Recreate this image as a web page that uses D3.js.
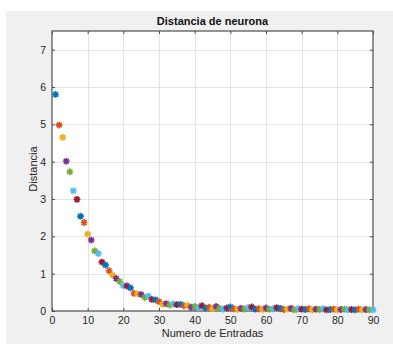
<!DOCTYPE html>
<html>
<head>
<meta charset="utf-8">
<script src="https://cdn.jsdelivr.net/npm/d3@7"></script>
<style>
html,body{margin:0;padding:0;background:#fff;}
svg{display:block;}
text{font-family:"Liberation Sans",Arial,sans-serif;}
</style>
</head>
<body>
<svg id="chart" width="393" height="344"></svg>
<script>
const entradas = d3.range(1, 91);
const distancia = [
  5.80, 4.98, 4.65, 4.01, 3.73, 3.22, 2.99, 2.54, 2.37, 2.06,
  1.90, 1.61, 1.54, 1.31, 1.23, 1.08, 0.96, 0.87, 0.79, 0.68,
  0.67, 0.62, 0.47, 0.46, 0.44, 0.36, 0.40, 0.31, 0.30, 0.25,
  0.18, 0.20, 0.16, 0.19, 0.17, 0.18, 0.14, 0.15, 0.10, 0.12,
  0.09, 0.14, 0.08, 0.10, 0.06, 0.12, 0.07, 0.05, 0.08, 0.11,
  0.06, 0.04, 0.07, 0.05, 0.09, 0.11, 0.05, 0.06, 0.04, 0.08,
  0.05, 0.06, 0.09, 0.07, 0.04, 0.05, 0.07, 0.03, 0.06, 0.05,
  0.04, 0.06, 0.03, 0.05, 0.04, 0.06, 0.03, 0.04, 0.05, 0.03,
  0.04, 0.05, 0.03, 0.04, 0.03, 0.05, 0.03, 0.04, 0.03, 0.03
];
const colores = ["#0072BD", "#D95319", "#EDB120", "#7E2F8E", "#77AC30", "#4DBEEE", "#A2142F"];
const xTicks = [0, 10, 20, 30, 40, 50, 60, 70, 80, 90];
const yTicks = [0, 1, 2, 3, 4, 5, 6, 7];
const titulo = "Distancia de neurona";
const xEtiqueta = "Numero de Entradas";
const yEtiqueta = "Distancia";

const svg = d3.select("#chart");
const W = 393, H = 344;
const m = {left: 52, right: 373, top: 31, bottom: 311};

svg.append("rect").attr("x", 6).attr("y", 11).attr("width", W - 6).attr("height", H - 11).attr("fill", "#f0f0f0");

const x = d3.scaleLinear().domain([0, 90]).range([m.left, m.right]);
const y = d3.scaleLinear().domain([0, 7.5]).range([m.bottom, m.top]);

svg.append("rect").attr("x", m.left).attr("y", m.top)
  .attr("width", m.right - m.left).attr("height", m.bottom - m.top).attr("fill", "#fff");

// grid
const grid = svg.append("g").attr("stroke", "#e3e3e3").attr("stroke-width", 1);
grid.selectAll(".gx").data(xTicks.slice(1, -1)).enter().append("line")
  .attr("x1", d => Math.round(x(d)) + 0.5).attr("x2", d => Math.round(x(d)) + 0.5)
  .attr("y1", m.top).attr("y2", m.bottom);
grid.selectAll(".gy").data(yTicks.slice(1)).enter().append("line")
  .attr("y1", d => Math.round(y(d)) + 0.5).attr("y2", d => Math.round(y(d)) + 0.5)
  .attr("x1", m.left).attr("x2", m.right);

// axes
const axColor = "#4d4d4d";
function styleAxis(g) {
  g.select(".domain").remove();
  g.selectAll(".tick line").attr("stroke", axColor);
  g.selectAll(".tick text").attr("fill", "#262626").attr("font-size", "10.5px");
}
svg.append("g").attr("transform", `translate(0,${m.bottom})`)
  .call(d3.axisBottom(x).tickValues(xTicks).tickSize(-3).tickPadding(6).tickFormat(d3.format("d")))
  .call(styleAxis);
svg.append("g").attr("transform", `translate(0,${m.top})`)
  .call(d3.axisTop(x).tickValues(xTicks).tickSize(-3).tickFormat(""))
  .call(styleAxis);
svg.append("g").attr("transform", `translate(${m.left},0)`)
  .call(d3.axisLeft(y).tickValues(yTicks).tickSize(-3).tickPadding(6).tickFormat(d3.format("d")))
  .call(styleAxis);
svg.append("g").attr("transform", `translate(${m.right},0)`)
  .call(d3.axisRight(y).tickValues(yTicks).tickSize(-3).tickFormat(""))
  .call(styleAxis);

svg.append("rect").attr("x", m.left).attr("y", m.top)
  .attr("width", m.right - m.left).attr("height", m.bottom - m.top)
  .attr("fill", "none").attr("stroke", axColor).attr("stroke-width", 1.2);

// markers (asterisk)
const r = 3.4, d45 = r * 0.72;
const star = `M${-r},0L${r},0M0,${-r}L0,${r}M${-d45},${-d45}L${d45},${d45}M${-d45},${d45}L${d45},${-d45}`;
svg.append("g").selectAll("path").data(entradas).enter().append("path")
  .attr("transform", (d, i) => `translate(${x(d)},${y(distancia[i])})`)
  .attr("d", star)
  .attr("fill", "none")
  .attr("stroke", (d, i) => colores[i % colores.length])
  .attr("stroke-width", 1.6);

// texts
svg.append("text").attr("x", (m.left + m.right) / 2).attr("y", 25)
  .attr("text-anchor", "middle").attr("font-size", "11px").attr("font-weight", "bold")
  .attr("fill", "#111").text(titulo);
svg.append("text").attr("x", (m.left + m.right) / 2).attr("y", 337)
  .attr("text-anchor", "middle").attr("font-size", "11px").attr("fill", "#262626").text(xEtiqueta);
svg.append("text").attr("transform", `translate(37,169) rotate(-90)`)
  .attr("text-anchor", "middle").attr("font-size", "11px").attr("fill", "#262626").text(yEtiqueta);
</script>
</body>
</html>
